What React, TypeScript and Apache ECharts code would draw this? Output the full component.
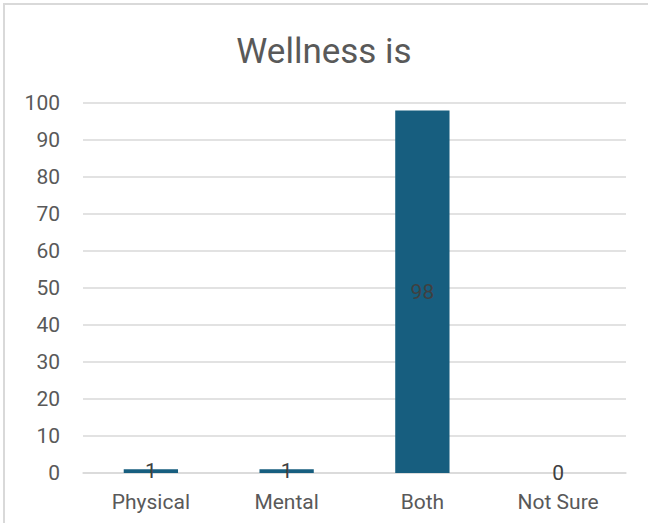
import React, { useEffect, useRef } from "react";
import * as echarts from "echarts";

const categories = ["Physical", "Mental", "Both", "Not Sure"];
const values = [1, 1, 98, 0];
const titleText = "Wellness is";

export default function App() {
  const ref = useRef<HTMLDivElement>(null);
  useEffect(() => {
    if (!ref.current) return;
    const chart = echarts.init(ref.current, null, { renderer: "svg" });
    chart.setOption({
      animation: false,
      textStyle: { fontFamily: "Roboto" },
      title: {
        text: titleText,
        left: "center",
        top: 29,
        textStyle: { fontSize: 35, fontWeight: "normal", color: "#595959", fontFamily: "Roboto" },
      },
      grid: { left: 83, right: 22, top: 103, bottom: 50, containLabel: false },
      xAxis: {
        type: "category",
        data: categories,
        axisLine: { show: true, lineStyle: { color: "#d9d9d9", width: 1.5 } },
        axisTick: { show: false },
        axisLabel: { fontSize: 21, color: "#595959", margin: 18 },
      },
      yAxis: {
        type: "value",
        min: 0,
        max: 100,
        interval: 10,
        axisLine: { show: false },
        axisTick: { show: false },
        splitLine: { lineStyle: { color: "#d9d9d9", width: 1.5 } },
        axisLabel: { fontSize: 21, color: "#595959", margin: 23 },
      },
      series: [
        {
          type: "bar",
          data: values,
          barCategoryGap: "60%",
          itemStyle: { color: "#175e7f" },
          label: {
            show: true,
            position: "inside",
            fontSize: 21,
            color: "#404040",
          },
        },
      ],
    });
    return () => chart.dispose();
  }, []);
  return (
    <div style={{ position: "fixed", left: 0, top: 0, width: 648, height: 523, overflow: "hidden", background: "#fff" }}>
      <div
        style={{
          position: "absolute",
          left: 3,
          top: 3,
          width: 700,
          height: 600,
          border: "2px solid #d9d9d9",
          boxSizing: "border-box",
        }}
      />
      <div ref={ref} style={{ position: "absolute", left: 0, top: 0, width: 648, height: 523 }} />
    </div>
  );
}
